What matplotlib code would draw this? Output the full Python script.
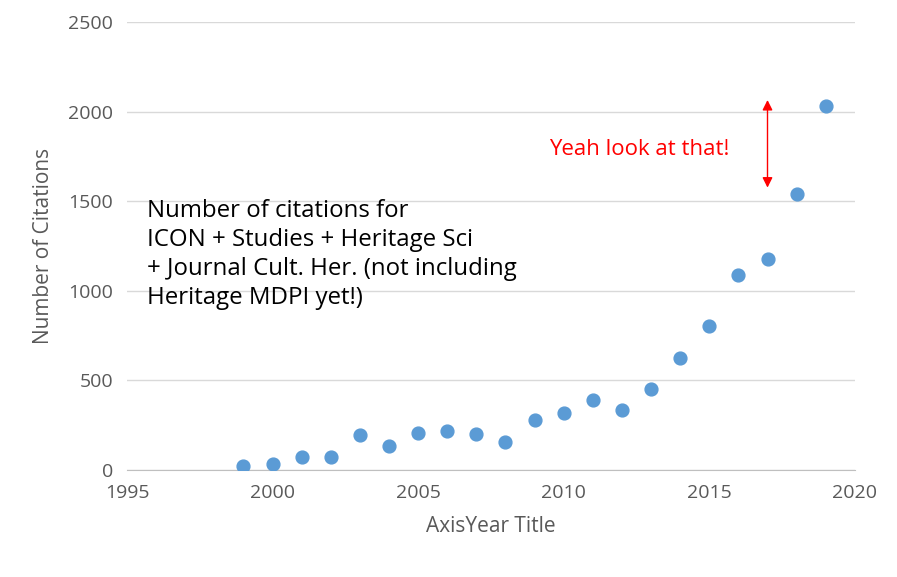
import matplotlib
matplotlib.use("Agg")
import matplotlib.pyplot as plt

years = [1999,2000,2001,2002,2003,2004,2005,2006,2007,2008,2009,2010,2011,2012,2013,2014,2015,2016,2017,2018,2019]
citations = [22,35,75,75,195,135,205,218,200,158,280,320,392,335,452,625,805,1088,1178,1540,2030]

plt.rcParams['font.family'] = ['Open Sans', 'DejaVu Sans']
fig = plt.figure(figsize=(8.97,5.77), dpi=100)
ax = fig.add_axes([0.1416,0.1854,0.8114,0.7766])
ax.scatter(years, citations, s=85, color='#5B9BD5', zorder=3)
ax.set_xlim(1995,2020)
ax.set_ylim(0,2500)
ax.set_xticks(range(1995,2021,5))
ax.set_yticks(range(0,2501,500))
ax.grid(axis='y', color='#D9D9D9', lw=1)
for s in ['left','right','top']:
    ax.spines[s].set_visible(False)
ax.spines['bottom'].set_color('#BFBFBF')
ax.tick_params(length=0, labelsize=14, colors='#595959', pad=10)
ax.set_xlabel('AxisYear Title', fontsize=15, color='#595959', labelpad=10)
ax.set_ylabel('Number of Citations', fontsize=15, color='#595959', labelpad=10)
ax.annotate('', xy=(2017,2080), xytext=(2017,1560),
            arrowprops=dict(arrowstyle='<|-|>', color='red', lw=1, mutation_scale=15))
ax.text(2009.5,1790,'Yeah look at that!', color='red', fontsize=16, va='center')
ax.text(1995.7,1510,'Number of citations for\nICON + Studies + Heritage Sci\n+ Journal Cult. Her. (not including\nHeritage MDPI yet!)',
        fontsize=17.3, va='top', linespacing=1.28)
fig.savefig('out.png', dpi=100)
